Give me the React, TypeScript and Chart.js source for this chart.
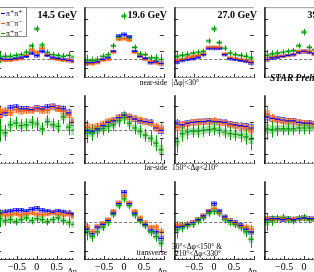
import React, { useEffect, useRef } from "react";
import { Chart, registerables } from "chart.js";
Chart.register(...registerables);

// ---------- data ----------
const etaCenters = [-0.933, -0.8, -0.667, -0.533, -0.4, -0.267, -0.133, 0, 0.133, 0.267, 0.4, 0.533, 0.667, 0.8, 0.933];
const energyLabels = ["14.5 GeV", "19.6 GeV", "27.0 GeV", "39.0 GeV"];
const seriesLabels = ["π⁺π⁺", "π⁻π⁻", "π⁺π⁻"];
const regionNames = ["near-side", "far-side", "transverse"];
const regionRanges = [["|Δφ|<30°"], ["150°<Δφ<210°"], ["30°<Δφ<150° &", "210°<Δφ<330°"]];
const xTickValues = [-0.5, 0, 0.5];
const yTickValues = [-3, -1, 1, 3, 5];

// near-side
const near145PP = [0.1, 0.0, 0.0, 0.1, 0.2, 0.4, 0.8, 0.5, 1.0, 0.5, 0.2, 0.1, 0.0, -0.1, -0.2];
const near145MM = [-0.1, -0.1, -0.1, 0.0, 0.1, 0.5, 1.2, 0.9, 1.4, 0.6, 0.1, 0.0, -0.1, -0.1, -0.2];
const near145PM = [0.3, 0.4, 0.4, 0.5, 0.6, 0.9, 1.7, 3.8, 1.8, 0.9, 0.6, 0.5, 0.4, 0.5, 0.3];
const near196PP = [-0.4, -0.4, -0.3, 0.0, 0.2, 1.0, 2.9, 3.1, 2.8, 1.0, 0.4, 0.1, -0.4, -0.3, -0.5];
const near196MM = [-0.5, -0.5, -0.4, -0.1, 0.0, 0.9, 2.5, 2.6, 2.4, 0.9, 0.4, 0.0, -0.3, -0.4, -0.5];
const near196PM = [-0.1, -0.1, 0.0, 0.4, 0.6, 1.7, 2.8, 5.4, 2.7, 1.5, 0.7, 0.6, 0.2, 0.2, 0.0];
const near270PP = [-0.3, -0.1, 0.0, 0.1, 0.3, 0.6, 1.4, 1.4, 1.4, 0.6, 0.1, 0.0, -0.1, -0.2, -0.4];
const near270MM = [-0.1, 0.0, 0.2, 0.4, 0.5, 0.7, 1.5, 1.5, 1.5, 0.7, 0.2, 0.1, 0.0, -0.1, -0.3];
const near270PM = [0.4, 0.5, 0.6, 0.8, 0.9, 1.0, 2.3, 3.8, 2.1, 1.4, 0.8, 0.6, 0.5, 0.4, 0.2];
const near390PP = [0.0, 0.2, 0.3, 0.4, 0.5, 0.6, 0.9, 1.0, 0.9, 0.7, 0.5, 0.4, 0.3, 0.2, 0.0];
const near390MM = [0.0, 0.3, 0.4, 0.4, 0.5, 0.6, 1.0, 1.0, 1.0, 0.6, 0.5, 0.4, 0.3, 0.2, 0.0];
const near390PM = [0.5, 0.7, 0.8, 0.9, 1.0, 1.1, 1.7, 3.4, 1.5, 1.2, 1.0, 0.9, 0.8, 0.7, 0.5];

// far-side
const far145PP = [2.0, 2.2, 2.8, 2.9, 2.7, 2.7, 2.6, 2.8, 2.7, 2.9, 3.0, 2.8, 2.7, 2.2, 1.0];
const far145MM = [2.2, 2.4, 2.2, 2.6, 2.4, 2.5, 2.5, 2.7, 2.5, 2.5, 2.9, 2.7, 2.4, 2.0, 1.2];
const far145PM = [0.0, -0.3, 0.7, 0.9, 0.6, 0.7, 1.0, 0.8, 0.2, 1.1, 0.7, 0.5, 1.7, 0.4, 0.0];
const far196PP = [0.0, -0.1, 0.2, 0.6, 1.0, 1.2, 1.6, 1.9, 1.7, 1.4, 1.2, 1.1, 1.0, 0.3, 0.0];
const far196MM = [0.4, 0.3, 0.5, 0.8, 1.1, 1.3, 1.6, 1.8, 1.7, 1.5, 1.3, 1.1, 0.9, 0.4, 0.2];
const far196PM = [-0.2, -0.3, 0.0, 0.2, 0.5, 0.7, 1.2, 1.6, 0.9, 0.3, -0.1, -0.6, -1.0, -1.6, -2.4];
const far270PP = [0.8, 0.7, 0.9, 1.0, 1.1, 1.1, 1.2, 1.1, 1.1, 1.0, 0.8, 0.7, 0.6, 0.5, 0.3];
const far270MM = [0.4, 0.6, 0.8, 1.0, 1.0, 1.1, 1.1, 1.2, 1.0, 0.9, 0.7, 0.6, 0.5, 0.3, 0.1];
const far270PM = [-1.4, -0.4, -0.2, -0.1, -0.1, 0.0, 0.1, 0.2, 0.0, -0.2, -0.4, -0.5, -0.6, -0.8, -1.1];
const far390PP = [1.7, 1.5, 1.4, 1.3, 1.2, 1.2, 1.0, 0.9, 0.9, 0.8, 0.8, 0.7, 0.7, 0.6, 0.5];
const far390MM = [2.0, 1.5, 1.3, 1.2, 1.1, 1.1, 1.0, 0.9, 0.8, 0.8, 0.7, 0.7, 0.6, 0.6, 0.5];
const far390PM = [0.2, 0.1, 0.2, 0.2, 0.2, 0.2, 0.3, 0.3, 0.3, 0.3, 0.2, 0.2, 0.2, 0.2, 0.1];

// transverse
const trans145PP = [1.0, 1.1, 1.2, 1.3, 1.3, 1.2, 1.4, 1.5, 1.3, 1.2, 1.1, 1.2, 1.1, 1.0, 0.8];
const trans145MM = [0.9, 0.8, 0.8, 0.9, 0.8, 0.9, 1.0, 0.9, 0.8, 0.9, 1.0, 0.9, 0.8, 0.9, 0.6];
const trans145PM = [0.4, 0.2, 0.3, 0.1, 0.3, 0.5, 0.2, 0.4, 0.3, 0.1, 0.3, 0.5, 0.2, 0.0, -0.2];
const trans196PP = [-0.7, -1.2, -0.5, -0.2, 0.2, 1.0, 2.0, 3.2, 2.0, 1.0, 0.3, -0.2, -0.8, -1.0, -1.7];
const trans196MM = [-0.5, -1.0, -0.4, -0.1, 0.3, 1.2, 2.1, 2.8, 2.1, 1.2, 0.5, 0.0, -0.5, -0.5, -1.0];
const trans196PM = [-1.0, -1.5, -1.0, -0.5, 0.0, 0.9, 1.8, 2.5, 1.8, 0.8, 0.2, -0.3, -1.0, -1.5, -2.2];
const trans270PP = [-0.5, -0.4, -0.2, 0.0, 0.3, 0.7, 1.2, 2.0, 1.2, 0.6, 0.2, 0.0, -0.3, -0.7, -1.0];
const trans270MM = [-0.3, -0.3, -0.2, 0.0, 0.3, 0.7, 1.2, 1.5, 1.1, 0.5, 0.2, -0.1, -0.4, -0.5, -0.7];
const trans270PM = [-0.8, -0.5, -0.3, -0.2, 0.2, 0.5, 1.0, 1.2, 1.0, 0.3, 0.0, -0.2, -0.5, -1.0, -1.8];
const trans390PP = [0.3, 0.4, 0.4, 0.3, 0.4, 0.3, 0.4, 0.5, 0.4, 0.4, 0.3, 0.4, 0.3, 0.3, 0.2];
const trans390MM = [0.4, 0.3, 0.4, 0.4, 0.3, 0.4, 0.4, 0.4, 0.4, 0.3, 0.4, 0.3, 0.3, 0.3, 0.2];
const trans390PM = [0.0, 0.2, 0.4, 0.5, 0.3, 0.2, 0.4, 0.5, 0.3, 0.3, 0.2, 0.3, 0.2, 0.2, 0.1];

// statistical errors (half length)
const nearStatPP = [0.3, 0.25, 0.2, 0.2, 0.2, 0.2, 0.2, 0.2, 0.2, 0.2, 0.2, 0.2, 0.2, 0.25, 0.35];
const nearStatMM = [0.3, 0.25, 0.2, 0.2, 0.2, 0.2, 0.2, 0.2, 0.2, 0.2, 0.2, 0.2, 0.2, 0.25, 0.35];
const nearStatPM = [0.7, 0.45, 0.4, 0.35, 0.35, 0.35, 0.35, 0.4, 0.35, 0.35, 0.35, 0.35, 0.4, 0.45, 0.7];
const farStatPP = [0.6, 0.45, 0.4, 0.35, 0.35, 0.35, 0.35, 0.35, 0.35, 0.35, 0.35, 0.35, 0.4, 0.45, 0.6];
const farStatMM = [0.9, 0.55, 0.45, 0.4, 0.4, 0.4, 0.4, 0.4, 0.4, 0.4, 0.4, 0.4, 0.45, 0.55, 0.9];
const farStatPM = [1.4, 1.0, 0.9, 0.8, 0.8, 0.8, 0.8, 0.8, 0.8, 0.8, 0.8, 0.8, 0.9, 1.0, 1.4];
const transStatPP = [0.4, 0.3, 0.25, 0.2, 0.2, 0.2, 0.2, 0.2, 0.2, 0.2, 0.2, 0.2, 0.25, 0.3, 0.4];
const transStatMM = [0.45, 0.3, 0.25, 0.2, 0.2, 0.2, 0.2, 0.2, 0.2, 0.2, 0.2, 0.2, 0.25, 0.3, 0.45];
const transStatPM = [0.9, 0.55, 0.45, 0.4, 0.4, 0.4, 0.4, 0.4, 0.4, 0.4, 0.4, 0.4, 0.45, 0.55, 0.9];

// systematic errors (half height of boxes)
const nearSysPP = [0.2, 0.18, 0.16, 0.15, 0.15, 0.15, 0.18, 0.2, 0.18, 0.15, 0.15, 0.15, 0.16, 0.18, 0.2];
const nearSysMM = [0.2, 0.18, 0.16, 0.15, 0.15, 0.15, 0.18, 0.2, 0.18, 0.15, 0.15, 0.15, 0.16, 0.18, 0.2];
const nearSysPM = [0.25, 0.2, 0.2, 0.18, 0.18, 0.2, 0.22, 0.25, 0.22, 0.2, 0.18, 0.18, 0.2, 0.2, 0.25];
const farSysPP = [0.4, 0.35, 0.3, 0.3, 0.3, 0.3, 0.3, 0.3, 0.3, 0.3, 0.3, 0.3, 0.3, 0.35, 0.4];
const farSysMM = [0.45, 0.4, 0.35, 0.35, 0.35, 0.35, 0.35, 0.35, 0.35, 0.35, 0.35, 0.35, 0.35, 0.4, 0.45];
const farSysPM = [0.6, 0.5, 0.45, 0.45, 0.45, 0.45, 0.45, 0.45, 0.45, 0.45, 0.45, 0.45, 0.45, 0.5, 0.6];
const transSysPP = [0.25, 0.22, 0.2, 0.2, 0.2, 0.2, 0.2, 0.2, 0.2, 0.2, 0.2, 0.2, 0.2, 0.22, 0.25];
const transSysMM = [0.25, 0.22, 0.2, 0.2, 0.2, 0.2, 0.2, 0.2, 0.2, 0.2, 0.2, 0.2, 0.2, 0.22, 0.25];
const transSysPM = [0.35, 0.3, 0.28, 0.28, 0.28, 0.28, 0.28, 0.28, 0.28, 0.28, 0.28, 0.28, 0.28, 0.3, 0.35];

const panelValues = [
  [[near145PP, near145MM, near145PM], [near196PP, near196MM, near196PM], [near270PP, near270MM, near270PM], [near390PP, near390MM, near390PM]],
  [[far145PP, far145MM, far145PM], [far196PP, far196MM, far196PM], [far270PP, far270MM, far270PM], [far390PP, far390MM, far390PM]],
  [[trans145PP, trans145MM, trans145PM], [trans196PP, trans196MM, trans196PM], [trans270PP, trans270MM, trans270PM], [trans390PP, trans390MM, trans390PM]],
];
const statErr = [
  [nearStatPP, nearStatMM, nearStatPM],
  [farStatPP, farStatMM, farStatPM],
  [transStatPP, transStatMM, transStatPM],
];
const sysErr = [
  [nearSysPP, nearSysMM, nearSysPM],
  [farSysPP, farSysMM, farSysPM],
  [transSysPP, transSysMM, transSysPM],
];

// ---------- layout & styles ----------
const COLS = [
  { left: -8, width: 87, min: -1, max: 0.933 },
  { left: 79, width: 90, min: -1, max: 1 },
  { left: 169, width: 90, min: -1, max: 1 },
  { left: 259, width: 90, min: -1, max: 1 },
];
const ROWS = [
  { top: 2, height: 88, min: -2.3, max: 6.5 },
  { top: 90, height: 86, min: -4.2, max: 4.4 },
  { top: 176, height: 84, min: -4.0, max: 4.4 },
];
const AXIS_H = 12;
const SERIF = "'Liberation Serif', 'DejaVu Serif', serif";

const STYLES = [
  { marker: "#0000f0", bar: "#0000f0", boxFill: "rgba(110,110,255,0.35)", boxStroke: "rgba(40,40,255,0.9)" },
  { marker: "#ff5a00", bar: "#ff6a10", boxFill: "rgba(255,150,80,0.6)", boxStroke: "rgba(255,120,40,0.7)" },
  { marker: "#009a00", bar: "#009a00", boxFill: "rgba(90,195,90,0.6)", boxStroke: "" },
];

function makePlugin(r: number, c: number) {
  const col = COLS[c];
  const row = ROWS[r];
  const px = (x: number) => x - col.left;
  const py = (y: number) => y - row.top;
  return {
    id: "panelDecor",
    beforeDatasetsDraw(chart: any) {
      const { ctx, chartArea: a, scales } = chart;
      const xs = scales.x;
      const ys = scales.y;
      ctx.save();
      ctx.beginPath();
      ctx.rect(a.left, a.top, a.right - a.left, a.bottom - a.top);
      ctx.clip();
      // dashed reference line
      const y0 = Math.round(ys.getPixelForValue(0)) + 0.5;
      ctx.setLineDash([3, 2]);
      ctx.strokeStyle = "#777";
      ctx.lineWidth = 1;
      ctx.beginPath();
      ctx.moveTo(a.left, y0);
      ctx.lineTo(a.right, y0);
      ctx.stroke();
      ctx.setLineDash([]);
      // systematic boxes
      chart.data.datasets.forEach((ds: any, si: number) => {
        const st = STYLES[si];
        const sys = sysErr[r][si];
        ds.data.forEach((p: any, i: number) => {
          const x = xs.getPixelForValue(p.x);
          const yt = ys.getPixelForValue(p.y + sys[i]);
          const yb = ys.getPixelForValue(p.y - sys[i]);
          ctx.fillStyle = st.boxFill;
          ctx.fillRect(x - 2.5, yt, 5, yb - yt);
          if (st.boxStroke) {
            ctx.strokeStyle = st.boxStroke;
            ctx.lineWidth = 0.8;
            ctx.strokeRect(x - 2.5, yt, 5, yb - yt);
          }
        });
      });
      // statistical bars
      chart.data.datasets.forEach((ds: any, si: number) => {
        const st = STYLES[si];
        const se = statErr[r][si];
        ctx.strokeStyle = st.bar;
        ctx.lineWidth = 1;
        ds.data.forEach((p: any, i: number) => {
          const x = Math.round(xs.getPixelForValue(p.x)) + 0.5;
          ctx.beginPath();
          ctx.moveTo(x, ys.getPixelForValue(p.y + se[i]));
          ctx.lineTo(x, ys.getPixelForValue(p.y - se[i]));
          ctx.stroke();
        });
      });
      ctx.restore();
    },
    afterDatasetsDraw(chart: any) {
      const { ctx, chartArea: a, scales } = chart;
      const xs = scales.x;
      const ys = scales.y;
      ctx.save();
      // ticks
      ctx.strokeStyle = "#333";
      ctx.lineWidth = 1;
      for (let k = -10; k <= 10; k++) {
        const v = k / 10;
        if (v < col.min || v > col.max) continue;
        const x = Math.round(xs.getPixelForValue(v)) + 0.5;
        const len = k % 5 === 0 ? 4 : 2;
        ctx.beginPath();
        ctx.moveTo(x, a.bottom);
        ctx.lineTo(x, a.bottom - len);
        ctx.stroke();
      }
      yTickValues.forEach((v) => {
        if (v <= row.min || v >= row.max) return;
        const y = Math.round(ys.getPixelForValue(v)) + 0.5;
        ctx.beginPath();
        ctx.moveTo(a.left, y);
        ctx.lineTo(a.left + 4, y);
        ctx.moveTo(a.right, y);
        ctx.lineTo(a.right - 4, y);
        ctx.stroke();
      });
      // frame
      if (r === 0) {
        ctx.strokeStyle = "#999";
        ctx.beginPath();
        ctx.moveTo(a.left, a.top + 0.5);
        ctx.lineTo(a.right, a.top + 0.5);
        ctx.stroke();
      }
      ctx.strokeStyle = r === 2 ? "#444" : "#8a8a8a";
      ctx.lineWidth = 1;
      ctx.beginPath();
      ctx.moveTo(a.left, a.bottom - 0.5);
      ctx.lineTo(a.right, a.bottom - 0.5);
      ctx.stroke();
      if (c > 0) {
        ctx.strokeStyle = "#111";
        ctx.lineWidth = 1.5;
        ctx.beginPath();
        ctx.moveTo(a.left + 0.75, a.top);
        ctx.lineTo(a.left + 0.75, a.bottom);
        ctx.stroke();
      }
      // texts
      ctx.fillStyle = "#000";
      ctx.textBaseline = "middle";
      if (r === 0) {
        ctx.font = `bold 10px ${SERIF}`;
        ctx.textAlign = "right";
        ctx.fillText(energyLabels[c], col.width - 2, py(15));
      }
      ctx.font = `7.5px ${SERIF}`;
      const labelY = [83, 168, 253][r];
      if (c === 1) {
        ctx.textAlign = "right";
        ctx.fillText(regionNames[r], px(167), py(labelY));
      }
      if (c === 2) {
        ctx.textAlign = "left";
        const ranges = regionRanges[r];
        if (ranges.length === 1) {
          ctx.fillText(ranges[0], px(172), py(labelY));
        } else {
          ctx.fillText(ranges[0], px(172), py(247.5));
          ctx.fillText(ranges[1], px(175), py(254.5));
        }
      }
      if (r === 0 && c === 3) {
        ctx.font = `italic bold 9.5px ${SERIF}`;
        ctx.textAlign = "left";
        ctx.fillText("STAR Preliminary", px(270), py(79));
      }
      if (r === 2) {
        ctx.font = `8px ${SERIF}`;
        ctx.textAlign = "right";
        ctx.fillText("Δη", col.width - 2, py(271.5));
      }
      // legend
      if (r === 0 && c === 0) {
        const bx = px(-1), by = py(7), bw = 28, bh = 30;
        ctx.fillStyle = "#fff";
        ctx.fillRect(bx, by, bw, bh);
        ctx.strokeStyle = "#888";
        ctx.lineWidth = 1;
        ctx.strokeRect(bx + 0.5, by + 0.5, bw - 1, bh - 1);
        chart.data.datasets.forEach((ds: any, si: number) => {
          const yy = py(13.5 + si * 10);
          ctx.strokeStyle = STYLES[si].marker;
          ctx.lineWidth = 1.2;
          ctx.beginPath();
          ctx.moveTo(px(1), yy);
          ctx.lineTo(px(5), yy);
          ctx.stroke();
          ctx.fillStyle = "#000";
          ctx.font = `8px ${SERIF}`;
          ctx.textAlign = "left";
          ctx.fillText(ds.label, px(6), yy);
        });
      }
      ctx.restore();
    },
  };
}

function Panel({ r, c }: { r: number; c: number }) {
  const ref = useRef<HTMLCanvasElement>(null);
  const col = COLS[c];
  const row = ROWS[r];
  const isBottom = r === 2;
  const h = row.height + (isBottom ? AXIS_H : 0);
  useEffect(() => {
    if (!ref.current) return;
    const datasets = seriesLabels.map((label, si) => ({
      label,
      data: etaCenters.map((x, i) => ({ x, y: panelValues[r][c][si][i] })),
      pointStyle: "line",
      pointRadius: 2.6,
      pointBorderWidth: 1.2,
      pointBorderColor: STYLES[si].marker,
      pointBackgroundColor: STYLES[si].marker,
      showLine: false,
    }));
    const chart = new Chart(ref.current, {
      type: "scatter",
      data: { datasets },
      options: {
        animation: false,
        responsive: false,
        maintainAspectRatio: false,
        events: [],
        layout: { padding: 0 },
        plugins: { legend: { display: false }, tooltip: { enabled: false } },
        scales: {
          x: {
            type: "linear",
            min: col.min,
            max: col.max,
            display: isBottom,
            grid: { display: false, drawTicks: false, tickLength: 0 },
            border: { display: false },
            afterBuildTicks: (scale: any) => {
              scale.ticks = xTickValues.map((v) => ({ value: v }));
            },
            afterFit: (scale: any) => {
              scale.height = AXIS_H;
            },
            ticks: {
              autoSkip: false,
              maxRotation: 0,
              padding: 1,
              color: "#000",
              font: { family: SERIF, size: 10 },
              callback: (v: any) => (v < 0 ? "−" : "") + Math.abs(Number(v)),
            },
          },
          y: {
            type: "linear",
            min: row.min,
            max: row.max,
            display: false,
          },
        },
      } as any,
      plugins: [makePlugin(r, c)],
    });
    return () => chart.destroy();
  }, []);
  return (
    <canvas
      ref={ref}
      width={col.width}
      height={h}
      style={{ position: "absolute", left: col.left, top: row.top, width: col.width, height: h }}
    />
  );
}

export default function App() {
  const panels = [];
  for (let r = 0; r < 3; r++) for (let c = 0; c < 4; c++) panels.push(<Panel key={`${r}-${c}`} r={r} c={c} />);
  return (
    <div style={{ position: "fixed", left: 0, top: 0, width: 314, height: 272, overflow: "hidden", background: "#fff" }}>
      {panels}
    </div>
  );
}
